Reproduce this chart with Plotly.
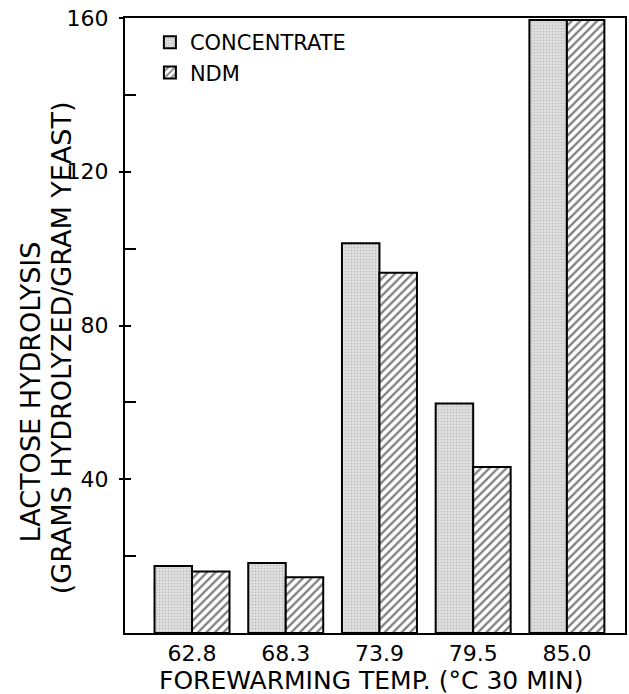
import plotly.graph_objects as go

temps = ["62.8", "68.3", "73.9", "79.5", "85.0"]
concentrate = [17.4, 18.2, 101.4, 59.7, 159.5]
ndm = [16.0, 14.5, 93.7, 43.2, 159.5]
y_major = [40, 80, 120, 160]
y_minor = [20, 60, 100, 140]
series_names = ["CONCENTRATE", "NDM"]
x_title = "FOREWARMING TEMP. (°C 30 MIN)"
y_title1 = "LACTOSE HYDROLYSIS"
y_title2 = "(GRAMS HYDROLYZED/GRAM YEAST)"

FONT = "DejaVu Sans"
W, H = 629, 694
L, R, T, B = 125, 2, 18, 61

fig = go.Figure()
fig.add_trace(go.Bar(
    x=temps, y=concentrate, name=series_names[0],
    marker=dict(color="#d8d8d8", line=dict(color="black", width=2),
                pattern=dict(shape=".", fgcolor="#9a9a9a", bgcolor="#e2e2e2",
                             size=3, solidity=0.3)),
))
fig.add_trace(go.Bar(
    x=temps, y=ndm, name=series_names[1],
    marker=dict(color="white", line=dict(color="black", width=2),
                pattern=dict(shape="/", fgcolor="black", bgcolor="white",
                             size=6, solidity=0.38)),
))

pw = W - L - R
ph = H - T - B

def px(x):
    return (x - L) / pw

def py(y):
    return (H - B - y) / ph

fig.update_layout(
    width=W, height=H,
    margin=dict(l=L, r=R, t=T, b=B),
    paper_bgcolor="white", plot_bgcolor="white",
    barmode="group", bargap=0.2, bargroupgap=0.0,
    font=dict(family=FONT, color="black"),
    showlegend=True,
    legend=dict(x=px(150), y=py(22), xanchor="left", yanchor="top",
                font=dict(size=21, family=FONT), bgcolor="rgba(0,0,0,0)",
                tracegroupgap=6, itemwidth=30),
    xaxis=dict(
        type="category", range=[-0.715, 4.62],
        showline=True, linecolor="black", linewidth=2, mirror=True,
        ticks="", showgrid=False, zeroline=False,
        tickfont=dict(size=22, family=FONT), ticklabelstandoff=0,
    ),
    yaxis=dict(
        range=[0, 160], showline=True, linecolor="black", linewidth=2, mirror=True,
        tickvals=y_major, ticks="outside", ticklen=4, tickwidth=2, tickcolor="black",
        minor=dict(tickvals=y_minor, ticks="inside", ticklen=11, tickwidth=2,
                   tickcolor="black", showgrid=False),
        showgrid=False, zeroline=False,
        tickfont=dict(size=22, family=FONT), ticklabelstandoff=6,
    ),
    yaxis2=dict(
        range=[0, 160], overlaying="y", side="left", anchor="x",
        tickvals=y_major, ticks="inside", ticklen=6, tickwidth=2, tickcolor="black",
        showticklabels=False, showline=False, showgrid=False, zeroline=False,
    ),
    annotations=[
        dict(text=x_title, xref="paper", yref="paper", x=px(372), y=py(680),
             xanchor="center", yanchor="middle", showarrow=False,
             font=dict(size=25, family=FONT)),
        dict(text=y_title1, xref="paper", yref="paper", x=px(30), y=py(392),
             xanchor="center", yanchor="middle", showarrow=False, textangle=-90,
             font=dict(size=27, family=FONT)),
        dict(text=y_title2, xref="paper", yref="paper", x=px(61), y=py(348),
             xanchor="center", yanchor="middle", showarrow=False, textangle=-90,
             font=dict(size=27, family=FONT)),
    ],
)
# invisible trace so the overlay axis renders its inside ticks
fig.add_trace(go.Bar(x=temps, y=[None] * len(temps), yaxis="y2",
                     showlegend=False, hoverinfo="skip"))

fig.write_html("out.html")
